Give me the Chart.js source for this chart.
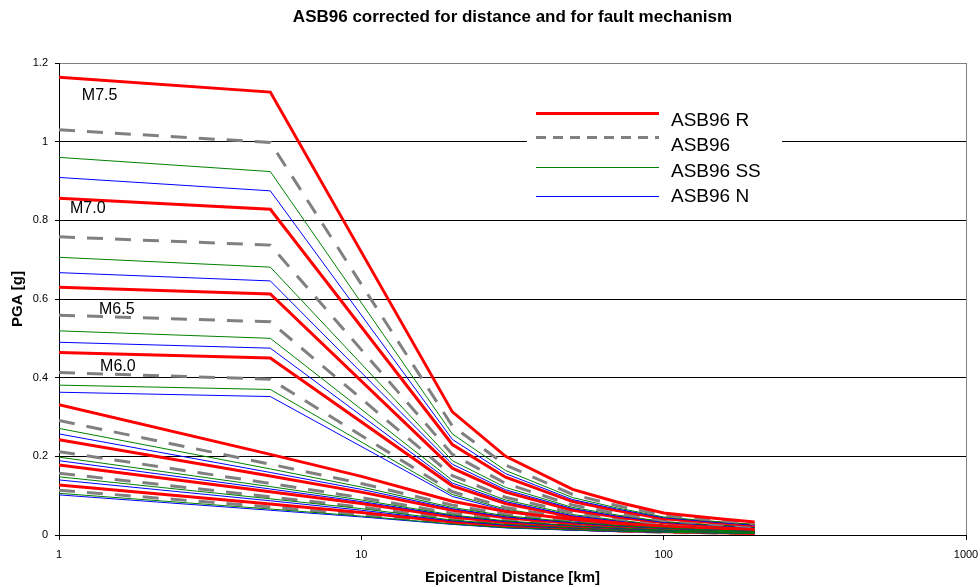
<!DOCTYPE html>
<html>
<head>
<meta charset="utf-8">
<script src="https://cdn.jsdelivr.net/npm/chart.js@4.4.0/dist/chart.umd.min.js"></script>
<style>
  body { margin: 0; background: #fff; }
  #wrap { width: 980px; height: 587px; }
</style>
</head>
<body>
<div id="wrap"><canvas id="pgaChart" width="980" height="587"></canvas></div>
<script>
// distances [km]
const distUpper = [1, 5, 20, 30, 50, 70, 100, 150, 200];
const distLower = [1, 5, 10, 20, 30, 50, 70, 100, 150, 200];

// upper group, labelled magnitudes
const m75R  = [1.164, 1.126, 0.313, 0.200, 0.116, 0.084, 0.056, 0.042, 0.033];
const m75   = [1.030, 0.998, 0.277, 0.178, 0.103, 0.075, 0.050, 0.037, 0.029];
const m75SS = [0.960, 0.924, 0.257, 0.164, 0.095, 0.069, 0.046, 0.034, 0.027];
const m75N  = [0.909, 0.875, 0.243, 0.156, 0.090, 0.066, 0.044, 0.032, 0.025];
const m70R  = [0.856, 0.828, 0.230, 0.147, 0.085, 0.062, 0.041, 0.031, 0.024];
const m70   = [0.758, 0.737, 0.205, 0.131, 0.076, 0.055, 0.037, 0.027, 0.021];
const m70SS = [0.706, 0.681, 0.189, 0.121, 0.070, 0.051, 0.034, 0.025, 0.020];
const m70N  = [0.667, 0.646, 0.180, 0.115, 0.067, 0.048, 0.032, 0.024, 0.019];
const m65R  = [0.630, 0.613, 0.170, 0.109, 0.063, 0.046, 0.031, 0.023, 0.018];
const m65   = [0.559, 0.542, 0.151, 0.096, 0.056, 0.041, 0.027, 0.020, 0.016];
const m65SS = [0.519, 0.500, 0.139, 0.089, 0.052, 0.038, 0.025, 0.019, 0.015];
const m65N  = [0.490, 0.475, 0.132, 0.085, 0.049, 0.036, 0.024, 0.018, 0.014];
const m60R  = [0.464, 0.450, 0.125, 0.080, 0.046, 0.034, 0.023, 0.017, 0.013];
const m60   = [0.413, 0.396, 0.110, 0.070, 0.041, 0.030, 0.020, 0.015, 0.011];
const m60SS = [0.381, 0.370, 0.103, 0.066, 0.038, 0.028, 0.019, 0.014, 0.011];
const m60N  = [0.363, 0.352, 0.098, 0.063, 0.036, 0.026, 0.018, 0.013, 0.010];

// lower group (no plateau)
const l1R  = [0.331, 0.205, 0.149, 0.086, 0.060, 0.040, 0.030, 0.022, 0.015, 0.012];
const l1   = [0.291, 0.180, 0.131, 0.076, 0.052, 0.035, 0.026, 0.019, 0.013, 0.010];
const l1SS = [0.271, 0.168, 0.122, 0.070, 0.049, 0.033, 0.024, 0.018, 0.012, 0.009];
const l1N  = [0.257, 0.159, 0.116, 0.067, 0.046, 0.031, 0.023, 0.017, 0.012, 0.009];
const l2R  = [0.242, 0.150, 0.109, 0.063, 0.044, 0.029, 0.022, 0.016, 0.011, 0.008];
const l2   = [0.212, 0.131, 0.095, 0.055, 0.038, 0.025, 0.019, 0.014, 0.010, 0.007];
const l2SS = [0.198, 0.123, 0.089, 0.051, 0.036, 0.024, 0.018, 0.013, 0.009, 0.007];
const l2N  = [0.189, 0.117, 0.085, 0.049, 0.034, 0.023, 0.017, 0.012, 0.009, 0.007];
const l3R  = [0.178, 0.110, 0.080, 0.046, 0.032, 0.021, 0.016, 0.012, 0.008, 0.006];
const l3   = [0.157, 0.097, 0.071, 0.041, 0.028, 0.019, 0.014, 0.010, 0.007, 0.005];
const l3SS = [0.148, 0.092, 0.067, 0.038, 0.027, 0.018, 0.013, 0.010, 0.007, 0.005];
const l3N  = [0.140, 0.087, 0.063, 0.036, 0.025, 0.017, 0.013, 0.009, 0.006, 0.005];
const l4R  = [0.127, 0.079, 0.057, 0.033, 0.023, 0.015, 0.011, 0.008, 0.006, 0.004];
const l4   = [0.114, 0.071, 0.051, 0.030, 0.021, 0.014, 0.010, 0.007, 0.005, 0.004];
const l4SS = [0.106, 0.066, 0.048, 0.028, 0.019, 0.013, 0.010, 0.007, 0.005, 0.004];
const l4N  = [0.102, 0.063, 0.046, 0.027, 0.018, 0.012, 0.009, 0.007, 0.005, 0.004];

const legendLabels = ['ASB96 R', 'ASB96', 'ASB96 SS', 'ASB96 N'];
const magLabels = ['M7.5', 'M7.0', 'M6.5', 'M6.0'];
const magX = [1.19, 1.087, 1.356, 1.367];
const magY = [1.106, 0.818, 0.562, 0.418];

const xTicks = [1, 10, 100, 1000];
const xTickLabels = ['1', '10', '100', '1000'];
const yTicks = [0, 0.2, 0.4, 0.6, 0.8, 1.0, 1.2];
const yTickLabels = ['0', '0.2', '0.4', '0.6', '0.8', '1', '1.2'];

const FONT = '"Liberation Sans", Arial, sans-serif';

const styles = {
  R:  { borderColor: '#FF0000', borderWidth: 3, borderDash: [] },
  B:  { borderColor: '#808080', borderWidth: 3, borderDash: [16, 12] },
  SS: { borderColor: '#008000', borderWidth: 1, borderDash: [] },
  N:  { borderColor: '#0000FF', borderWidth: 1, borderDash: [] },
};

// first in list = drawn on top
const series = [
  [l4SS, 'SS', distLower], [l3SS, 'SS', distLower], [l2SS, 'SS', distLower], [l1SS, 'SS', distLower],
  [l4N, 'N', distLower], [l3N, 'N', distLower], [l2N, 'N', distLower], [l1N, 'N', distLower],
  [l4R, 'R', distLower], [l3R, 'R', distLower], [l2R, 'R', distLower], [l1R, 'R', distLower],
  [l4, 'B', distLower], [l3, 'B', distLower], [l2, 'B', distLower], [l1, 'B', distLower],
  [m75R, 'R', distUpper], [m75, 'B', distUpper], [m75SS, 'SS', distUpper], [m75N, 'N', distUpper],
  [m70R, 'R', distUpper], [m70, 'B', distUpper], [m70SS, 'SS', distUpper], [m70N, 'N', distUpper],
  [m65R, 'R', distUpper], [m65, 'B', distUpper], [m65SS, 'SS', distUpper], [m65N, 'N', distUpper],
  [m60R, 'R', distUpper], [m60, 'B', distUpper], [m60SS, 'SS', distUpper], [m60N, 'N', distUpper],
];

const datasets = series.map(([vals, kind, dist]) => ({
  data: dist.map((d, i) => ({ x: d, y: vals[i] })),
  ...styles[kind],
  fill: false,
  tension: 0,
  pointRadius: 0,
}));

// legend box + magnitude labels drawn in the plot area
const overlay = {
  id: 'overlay',
  afterDatasetsDraw(chart) {
    const { ctx, scales: { x, y } } = chart;
    ctx.save();
    ctx.fillStyle = '#000';
    ctx.font = '16px ' + FONT;
    ctx.textBaseline = 'alphabetic';
    ctx.textAlign = 'left';
    magLabels.forEach((t, i) => {
      ctx.fillText(t, x.getPixelForValue(magX[i]), y.getPixelForValue(magY[i]));
    });

    ctx.fillStyle = '#fff';
    ctx.fillRect(527, 98, 255, 115);
    const kinds = ['R', 'B', 'SS', 'N'];
    const lineY = [113.5, 137.5, 167.5, 196.5];
    const textY = [126, 150.7, 176.7, 201.7];
    kinds.forEach((k, i) => {
      const s = styles[k];
      ctx.strokeStyle = s.borderColor;
      ctx.lineWidth = s.borderWidth;
      ctx.setLineDash(k === 'B' ? [10, 7] : []);
      ctx.beginPath();
      ctx.moveTo(536, lineY[i]);
      ctx.lineTo(659, lineY[i]);
      ctx.stroke();
      ctx.setLineDash([]);
      ctx.fillStyle = '#000';
      ctx.font = '19px ' + FONT;
      ctx.fillText(legendLabels[i], 671, textY[i]);
    });
    ctx.restore();
  }
};

Chart.defaults.font.family = FONT;
Chart.defaults.color = '#000';

new Chart(document.getElementById('pgaChart'), {
  type: 'line',
  data: { datasets },
  options: {
    responsive: false,
    animation: false,
    events: [],
    layout: { padding: { left: 0, right: 14, top: 0, bottom: 0 } },
    plugins: {
      legend: { display: false },
      tooltip: { enabled: false },
      title: {
        display: true,
        text: 'ASB96 corrected for distance and for fault mechanism',
        fullSize: false,
        font: { size: 17, weight: 'bold' },
        color: '#000',
        padding: { top: 7, bottom: 35.6 },
      },
    },
    scales: {
      x: {
        type: 'logarithmic',
        min: 1,
        max: 1000,
        afterBuildTicks: s => { s.ticks = xTicks.map(v => ({ value: v })); },
        afterFit: s => { s.height = 52; s.paddingRight = 0; s.paddingLeft = 0; },
        ticks: {
          font: { size: 11 },
          color: '#000',
          padding: 8,
          maxRotation: 0,
          autoSkip: false,
          callback: (v) => xTickLabels[xTicks.indexOf(v)] ?? '',
        },
        grid: {
          drawOnChartArea: true,
          color: c => (c.tick && c.tick.value === 1000 ? '#808080' : 'rgba(0,0,0,0)'),
          tickColor: '#000',
          tickLength: 5,
        },
        border: { color: '#000', width: 1 },
        title: {
          display: true,
          text: 'Epicentral Distance [km]',
          font: { size: 15, weight: 'bold' },
          color: '#000',
          padding: { top: 0, bottom: 0 },
        },
      },
      y: {
        min: 0,
        max: 1.2,
        afterBuildTicks: s => { s.ticks = yTicks.map(v => ({ value: v })); },
        afterFit: s => { s.width = 59; },
        ticks: {
          font: { size: 11 },
          color: '#000',
          padding: 7,
          callback: (v) => yTickLabels[yTicks.findIndex(t => Math.abs(t - v) < 1e-6)] ?? '',
        },
        grid: {
          color: c => (c.tick && Math.abs(c.tick.value - 1.2) < 1e-6 ? '#808080' : '#000'),
          tickColor: '#000',
          tickLength: 4,
        },
        border: { color: '#000', width: 1 },
        title: {
          display: true,
          text: 'PGA [g]',
          font: { size: 15, weight: 'bold' },
          color: '#000',
          padding: { top: 9, bottom: 0 },
        },
      },
    },
  },
  plugins: [overlay],
});
</script>
</body>
</html>
